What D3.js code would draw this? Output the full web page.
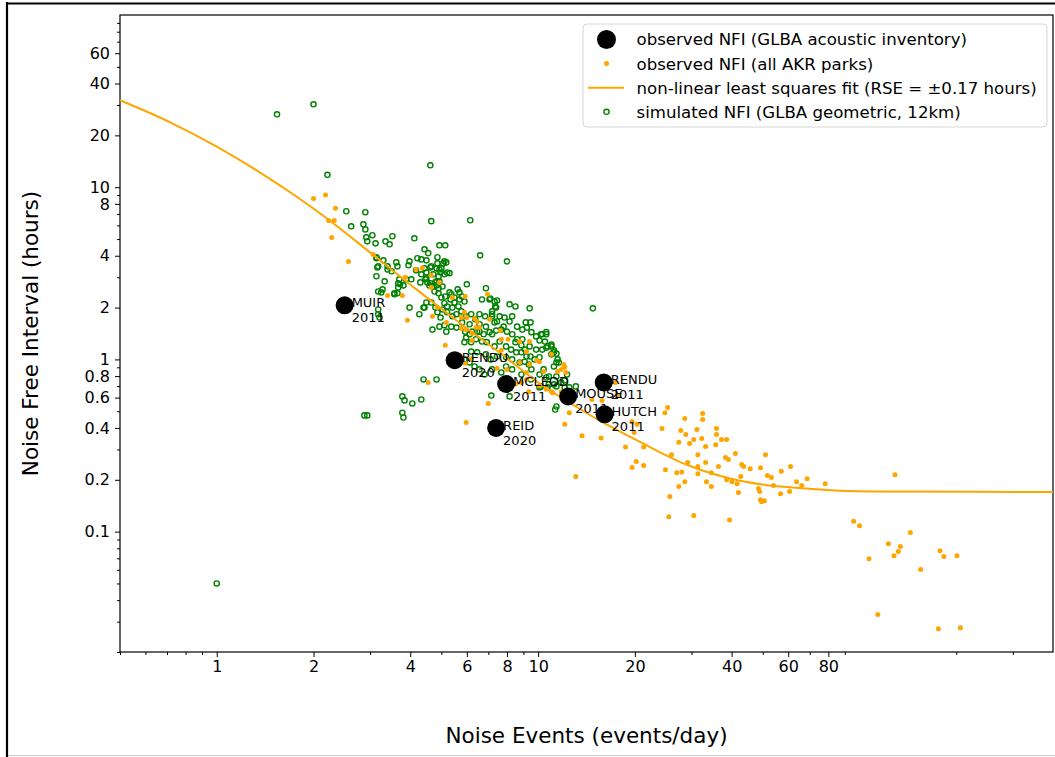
<!DOCTYPE html>
<html>
<head>
<meta charset="utf-8">
<script src="https://cdn.jsdelivr.net/npm/d3@7"></script>
<style>
  html, body { margin: 0; padding: 0; background: #fff; }
  svg { display: block; font-family: "DejaVu Sans", sans-serif; }
</style>
</head>
<body>
<svg id="chart" width="1055" height="757"></svg>
<script>
// ---------------- data ----------------
const siteNames = ["MUIR", "RENDU", "MCLEOD", "REID", "MOUSE", "RENDU", "HUTCH"];
const siteYears = ["2011", "2020", "2011", "2020", "2011", "2011", "2011"];
const siteEvents = [2.5, 5.5, 7.95, 7.4, 12.4, 16.0, 16.1];
const siteNFI = [2.06, 0.99, 0.72, 0.40, 0.61, 0.735, 0.48];

const akrObs = [
  [2.0,8.6],[2.18,9.0],[2.34,7.56],[2.23,6.4],[2.32,6.4],[2.28,5.1],[2.57,3.7],[3.07,4.07],[3.4,2.35],[3.78,2.35],
  [3.92,1.69],[4.55,0.735],[4.17,3.33],[4.36,3.4],[4.65,3.08],[4.69,1.78],[5.14,1.21],[5.41,2.29],[5.93,2.32],[6.96,2.39],
  [5.9,1.88],[5.18,1.64],[6.23,1.29],[5.72,1.05],[5.93,0.95],[6.19,1.01],[7.0,0.555],[7.45,0.89],[5.97,0.43],[8.5,0.72],
  [8.0,0.875],[9.2,0.765],[9.4,0.935],[9.9,0.99],[10.6,0.67],[12.1,0.42],[13.7,0.36],[12.0,0.935],[12.1,0.9],[11.5,0.85],
  [6.34,1.73],[6.46,1.66],[7.06,1.71],[6.41,1.53],[5.97,1.49],[7.63,1.47],[7.68,1.31],[8.06,1.31],[8.76,1.27],[9.4,1.27],
  [9.2,1.11],[11.0,1.07],[11.8,0.875],[12.2,0.84],[10.4,0.85],[9.2,0.84],[8.76,0.96],[8.87,0.735],[9.35,0.65],[10.1,0.70],
  [11.0,0.65],[11.8,0.65],[12.5,0.49],[7.68,1.13],[5.77,1.75],[4.93,2.8],[4.86,2.0],[6.0,1.75],[5.77,1.51],[6.23,1.42],
  [6.57,1.53],[10.1,0.97],[11.1,0.64],[13.1,0.209],[15.7,0.35],[14.7,0.585],[15.8,0.578],[17.4,0.735],[17.8,0.617],[19.6,0.436],
  [20.3,0.42],[19.9,0.376],[18.7,0.31],[19.6,0.236],[20.2,0.255],[21.3,0.31],[21.3,0.242],[24.8,0.49],[25.3,0.526],[24.3,0.397],
  [26.0,0.28],[24.9,0.229],[25.7,0.16],[25.5,0.122],[27.0,0.22],[27.4,0.183],[28.6,0.195],[28.0,0.222],[28.6,0.454],[27.8,0.386],
  [28.8,0.366],[27.4,0.33],[29.6,0.325],[29.2,0.252],[30.5,0.343],[31.2,0.392],[31.4,0.28],[31.4,0.239],[31.4,0.217],[32.3,0.347],
  [32.5,0.485],[32.5,0.448],[33.2,0.312],[33.2,0.252],[33.4,0.195],[34.6,0.183],[34.6,0.22],[30.5,0.124],[35.9,0.397],[35.9,0.366],
  [35.7,0.32],[36.4,0.239],[37.2,0.343],[38.6,0.343],[38.3,0.269],[39.1,0.262],[38.6,0.2],[40.1,0.195],[41.1,0.284],[41.6,0.19],
  [42.0,0.169],[43.0,0.245],[42.7,0.209],[43.6,0.239],[45.7,0.232],[39.4,0.117],[48.5,0.178],[48.9,0.171],[49.2,0.153],[49.6,0.149],
  [50.6,0.151],[51.0,0.28],[49.2,0.235],[51.7,0.212],[53.2,0.206],[54.0,0.185],[56.8,0.166],[57.1,0.224],[60.6,0.171],[61.0,0.239],
  [63.7,0.195],[66.1,0.185],[68.7,0.203],[78.2,0.19],[95.9,0.115],[100,0.108],[129,0.214],[107,0.0696],[114,0.033],[123,0.085],
  [128,0.0725],[132,0.0766],[134,0.082],[144,0.099],[155,0.0603],[178,0.0775],[183,0.0716],[201,0.0725],[176,0.0273],[206,0.0277],
  [3.86,3.0],[4.65,2.62]
];

const simNFI = [
  [1.54,26.5],[2.0,30.3],[2.21,11.8],[1.0,0.05],[4.62,13.4],[4.65,6.35],[6.15,6.43],[8.0,3.71],[14.8,1.98],[6.6,4.02],
  [2.53,7.25],[2.9,7.16],[2.62,5.93],[2.86,6.09],[2.9,5.69],[3.05,5.26],[2.92,5.12],[2.94,4.85],[3.12,4.72],[3.35,4.85],
  [3.45,4.66],[3.52,5.19],[4.12,5.05],[4.43,4.36],[4.55,4.14],[4.93,4.6],[5.14,4.6],[4.86,3.92],[3.14,3.87],[3.3,3.76],
  [3.4,3.47],[3.62,3.66],[3.65,3.47],[3.98,3.71],[3.95,3.52],[4.21,3.87],[4.33,3.81],[4.49,3.76],[4.65,3.47],[4.86,3.61],
  [5.07,3.61],[5.18,3.66],[4.93,3.33],[5.3,3.17],[5.11,3.12],[3.16,3.42],[3.14,3.04],[3.5,3.25],[3.7,2.92],[3.67,2.77],
  [3.81,2.69],[4.03,2.92],[4.3,2.8],[4.46,2.92],[4.62,2.77],[4.79,2.8],[5.11,3.71],[4.62,3.42],[4.83,3.38],[5.0,3.38],
  [4.97,3.2],[5.21,3.2],[4.9,3.04],[4.72,3.12],[4.43,3.38],[4.49,3.2],[4.33,3.12],[4.17,3.29],[3.88,2.92],[3.72,2.73],
  [3.33,2.84],[3.4,3.33],[4.49,2.96],[4.52,2.8],[4.59,2.69],[4.69,2.65],[4.83,2.84],[4.93,2.84],[4.83,2.69],[4.9,2.59],
  [5.04,2.65],[4.76,2.48],[4.9,2.42],[5.0,2.29],[5.14,2.32],[5.3,2.45],[5.37,2.39],[5.49,2.29],[5.69,2.45],[5.62,2.55],
  [5.8,2.32],[6.0,2.73],[5.9,2.17],[5.69,2.23],[5.49,2.14],[5.34,2.23],[5.11,2.12],[5.21,2.03],[5.41,2.0],[5.65,2.03],
  [5.77,1.9],[5.57,1.83],[5.41,1.78],[5.21,1.88],[5.04,1.95],[4.86,1.88],[4.97,1.75],[4.79,2.0],[4.65,2.14],[4.49,2.14],
  [4.43,2.0],[3.98,2.0],[4.27,1.83],[4.69,1.49],[5.11,1.58],[5.97,1.78],[6.19,1.83],[6.37,1.71],[6.57,1.83],[6.69,2.23],
  [6.88,2.59],[7.06,2.23],[7.32,2.17],[7.4,2.0],[7.19,1.83],[6.84,1.78],[6.57,1.6],[6.88,1.55],[7.32,1.64],[7.06,1.44],
  [6.77,1.4],[6.57,1.45],[6.23,1.45],[6.12,1.6],[5.93,1.45],[5.8,1.64],[5.57,1.53],[5.37,1.55],[5.18,1.45],[4.93,1.55],
  [3.67,2.62],[3.57,2.39],[3.28,2.55],[7.1,2.26],[7.45,2.2],[8.15,2.09],[8.5,2.03],[9.41,1.98],[7.35,2.03],[7.19,1.9],
  [7.59,1.78],[7.86,1.75],[7.19,1.78],[7.45,1.66],[7.81,1.55],[8.15,1.66],[8.3,1.78],[8.6,1.55],[9.15,1.64],[9.47,1.64],
  [9.22,1.53],[8.93,1.49],[9.53,1.44],[9.86,1.36],[10.2,1.4],[10.6,1.4],[10.1,1.29],[10.5,1.27],[11.0,1.22],[10.7,1.19],
  [11.2,1.13],[11.4,1.08],[11.0,1.07],[11.5,1.0],[11.6,0.96],[11.2,0.91],[10.3,1.14],[9.86,1.14],[9.41,1.19],[9.1,1.14],
  [8.87,1.21],[8.5,1.26],[8.6,1.31],[8.93,1.31],[8.31,1.4],[8.0,1.45],[7.68,1.49],[7.4,1.47],[7.19,1.4],[6.46,1.45],
  [6.12,1.4],[5.97,1.34],[5.9,1.26],[6.19,1.26],[6.41,1.31],[6.69,1.27],[6.92,1.26],[7.32,1.19],[7.59,1.27],[7.95,1.19],
  [8.24,1.14],[8.55,1.1],[8.87,1.1],[9.2,1.04],[9.47,1.04],[9.08,0.97],[8.76,0.96],[8.3,1.0],[9.35,0.935],[9.75,1.0],
  [10.1,1.03],[9.53,0.875],[10.4,0.875],[10.1,0.818],[10.6,0.786],[10.8,0.716],[11.2,0.716],[10.7,0.688],[10.1,0.688],[9.5,0.765],
  [8.87,0.818],[8.3,0.875],[7.95,0.91],[7.68,0.84],[7.19,0.875],[6.81,0.818],[6.57,0.875],[6.34,0.91],[6.12,0.96],[5.9,1.0],
  [6.19,1.11],[6.46,1.1],[6.88,1.07],[7.12,1.0],[7.45,1.04],[7.95,1.03],[8.15,0.61],[7.15,0.617],[12.5,0.688],[13.1,0.697],
  [12.3,0.818],[10.3,1.4],[10.6,1.44],[11.0,1.19],[10.6,1.17],[11.2,1.1],[11.4,0.96],[10.8,0.796],[11.4,0.796],[12.1,0.755],
  [11.8,0.735],[11.4,0.697],[12.1,0.688],[11.4,0.533],[11.3,0.512],[10.2,0.697],[4.4,0.765],[4.83,0.765],[3.78,0.61],[3.84,0.578],
  [4.06,0.555],[4.33,0.585],[2.88,0.473],[2.94,0.473],[3.78,0.49],[3.81,0.46],[3.18,1.95],[3.18,1.83],[3.21,1.75],[3.18,3.47],
  [3.18,2.48],[3.25,2.45],[3.57,2.42],[3.65,2.42],[3.14,3.92],[4.4,2.0]
];

// fitted curve
const fitEvents = [0.5, 0.714, 1.0, 1.36, 1.747, 2.24, 3.05, 4.18, 5.68, 7.57, 10.1, 12.5, 15.5, 20.6, 29.4, 42.1, 68, 109, 400];
const fitNFI    = [32.0, 23.9, 17.2, 12.2, 8.98, 6.43, 4.08, 2.55, 1.64, 1.10, 0.725, 0.562, 0.442, 0.334, 0.242, 0.198, 0.178, 0.171, 0.170];

const xTickValues = [1, 2, 4, 6, 8, 10, 20, 40, 60, 80];
const xMinorValues = [0.5, 0.6, 0.7, 0.8, 0.9, 3, 5, 7, 9, 30, 50, 70, 90, 200, 300];
const yTickValues = [0.1, 0.2, 0.4, 0.6, 0.8, 1, 2, 4, 8, 10, 20, 40, 60];
const yMinorValues = [0.02, 0.03, 0.04, 0.05, 0.06, 0.07, 0.08, 0.09, 0.3, 0.5, 0.7, 0.9, 3, 5, 6, 7, 9, 30, 50, 70, 80, 90];

const legendLabels = [
  "observed NFI (GLBA acoustic inventory)",
  "observed NFI (all AKR parks)",
  "non-linear least squares fit (RSE = \u00B10.17 hours)",
  "simulated NFI (GLBA geometric, 12km)"
];
const xTitle = "Noise Events (events/day)";
const yTitle = "Noise Free Interval (hours)";

// ---------------- layout ----------------
const W = 1055, H = 757;
const plot = { left: 120, right: 1053, top: 15, bottom: 652 };
const ORANGE = "#FFA500", GREEN = "#008000";

const svg = d3.select("#chart");
svg.append("rect").attr("width", W).attr("height", H).attr("fill", "#fff");

// figure frame (cropped screenshot look)
svg.append("line").attr("x1", 7).attr("x2", 7).attr("y1", 2).attr("y2", H)
  .attr("stroke", "#000").attr("stroke-width", 2.2);
svg.append("line").attr("x1", 6).attr("x2", W).attr("y1", 3.5).attr("y2", 3.5)
  .attr("stroke", "#000").attr("stroke-width", 2);
svg.append("line").attr("x1", 8).attr("x2", W).attr("y1", 755.5).attr("y2", 755.5)
  .attr("stroke", "#c8c8c8").attr("stroke-width", 1);

const x = d3.scaleLog().domain([0.5, 400]).range([plot.left, plot.right]);
const y = d3.scaleLog().domain([0.02, 100]).range([plot.bottom, plot.top]);

// axes
const fmt = d => d3.format("~g")(d);
const gx = svg.append("g").attr("transform", `translate(0,${plot.bottom})`);
gx.call(d3.axisBottom(x).tickValues(xTickValues).tickFormat(fmt).tickSize(5).tickPadding(4));
const gxm = svg.append("g").attr("transform", `translate(0,${plot.bottom})`);
gxm.call(d3.axisBottom(x).tickValues(xMinorValues).tickFormat("").tickSize(3));
const gy = svg.append("g").attr("transform", `translate(${plot.left},0)`);
gy.call(d3.axisLeft(y).tickValues(yTickValues).tickFormat(fmt).tickSize(5).tickPadding(5));
const gym = svg.append("g").attr("transform", `translate(${plot.left},0)`);
gym.call(d3.axisLeft(y).tickValues(yMinorValues).tickFormat("").tickSize(3));

[gx, gxm, gy, gym].forEach(g => {
  g.select(".domain").remove();
  g.selectAll(".tick line").attr("stroke", "#000").attr("stroke-width", 1);
  g.selectAll(".tick text").attr("fill", "#000").attr("font-size", 16)
    .attr("font-family", "DejaVu Sans");
});

// spines
svg.append("rect")
  .attr("x", plot.left).attr("y", plot.top)
  .attr("width", plot.right - plot.left).attr("height", plot.bottom - plot.top)
  .attr("fill", "none").attr("stroke", "#000").attr("stroke-width", 1.2);

// axis titles
svg.append("text").attr("x", (plot.left + plot.right) / 2).attr("y", 743)
  .attr("text-anchor", "middle").attr("font-size", 21.5).attr("fill", "#000").text(xTitle);
svg.append("text")
  .attr("transform", `translate(38,${(plot.top + plot.bottom) / 2}) rotate(-90)`)
  .attr("text-anchor", "middle").attr("font-size", 21.5).attr("fill", "#000").text(yTitle);

// ---------------- marks ----------------
const gPlot = svg.append("g");

gPlot.selectAll("circle.sim").data(simNFI).enter().append("circle")
  .attr("class", "sim")
  .attr("cx", d => x(d[0])).attr("cy", d => y(d[1])).attr("r", 2.6)
  .attr("fill", "none").attr("stroke", GREEN).attr("stroke-width", 1.4);

gPlot.selectAll("circle.akr").data(akrObs).enter().append("circle")
  .attr("class", "akr")
  .attr("cx", d => x(d[0])).attr("cy", d => y(d[1])).attr("r", 2.5)
  .attr("fill", ORANGE);

const fitData = fitEvents.map((e, i) => [e, fitNFI[i]]);
gPlot.append("path").datum(fitData)
  .attr("d", d3.line().x(d => x(d[0])).y(d => y(d[1])).curve(d3.curveMonotoneX))
  .attr("fill", "none").attr("stroke", ORANGE).attr("stroke-width", 2);

const sites = siteNames.map((n, i) => ({ name: n, year: siteYears[i], ev: siteEvents[i], nfi: siteNFI[i] }));

const labels = gPlot.selectAll("text.site").data(sites).enter().append("text")
  .attr("class", "site")
  .attr("x", d => x(d.ev) + 7).attr("y", d => y(d.nfi) + 2)
  .attr("font-size", 13).attr("fill", "#000");
labels.append("tspan").text(d => d.name);
labels.append("tspan").attr("x", d => x(d.ev) + 7).attr("dy", 15).text(d => d.year);

gPlot.selectAll("circle.site").data(sites).enter().append("circle")
  .attr("class", "site")
  .attr("cx", d => x(d.ev)).attr("cy", d => y(d.nfi)).attr("r", 9)
  .attr("fill", "#000");

// ---------------- legend ----------------
const lg = svg.append("g");
lg.append("rect").attr("x", 583).attr("y", 24).attr("width", 464).attr("height", 103)
  .attr("rx", 4).attr("fill", "#fff").attr("fill-opacity", 0.8)
  .attr("stroke", "#d6d6d6").attr("stroke-width", 1);
const rowY = i => 39.5 + i * 24.1;
const mx = 606.5;
lg.append("circle").attr("cx", mx).attr("cy", rowY(0)).attr("r", 9.5).attr("fill", "#000");
lg.append("circle").attr("cx", mx).attr("cy", rowY(1)).attr("r", 2.5).attr("fill", ORANGE);
lg.append("line").attr("x1", 588).attr("x2", 624).attr("y1", rowY(2)).attr("y2", rowY(2))
  .attr("stroke", ORANGE).attr("stroke-width", 2);
lg.append("circle").attr("cx", mx).attr("cy", rowY(3)).attr("r", 2.6)
  .attr("fill", "none").attr("stroke", GREEN).attr("stroke-width", 1.4);
lg.selectAll("text").data(legendLabels).enter().append("text")
  .attr("x", 636.5).attr("y", (d, i) => rowY(i))
  .attr("dy", "0.36em").attr("font-size", 16.6).attr("fill", "#000")
  .text(d => d);
</script>
</body>
</html>
